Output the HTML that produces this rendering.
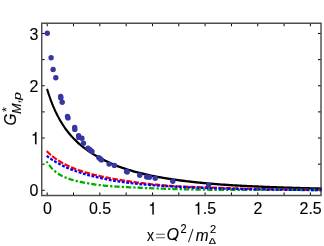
<!DOCTYPE html>
<html><head><meta charset="utf-8"><style>
html,body{margin:0;padding:0;background:#fff;}
svg{display:block;will-change:transform}
text{font-family:"Liberation Sans",sans-serif;fill:#000;stroke:#000;stroke-width:0.12px}
</style></head><body>
<svg width="324" height="246" viewBox="0 0 324 246">
<rect width="324" height="246" fill="#fff"/>
<g stroke="#000" stroke-width="1" fill="none"><path d="M47.20,195.50 v-3 M47.20,23.25 v3"/><path d="M73.52,195.50 v-3 M73.52,23.25 v3"/><path d="M99.84,195.50 v-3 M99.84,23.25 v3"/><path d="M126.16,195.50 v-3 M126.16,23.25 v3"/><path d="M152.48,195.50 v-3 M152.48,23.25 v3"/><path d="M178.80,195.50 v-3 M178.80,23.25 v3"/><path d="M205.12,195.50 v-3 M205.12,23.25 v3"/><path d="M231.44,195.50 v-3 M231.44,23.25 v3"/><path d="M257.76,195.50 v-3 M257.76,23.25 v3"/><path d="M284.08,195.50 v-3 M284.08,23.25 v3"/><path d="M310.40,195.50 v-3 M310.40,23.25 v3"/><path d="M41.70,190.30 h3 M321.00,190.30 h-3"/><path d="M41.70,164.17 h3 M321.00,164.17 h-3"/><path d="M41.70,138.03 h3 M321.00,138.03 h-3"/><path d="M41.70,111.90 h3 M321.00,111.90 h-3"/><path d="M41.70,85.76 h3 M321.00,85.76 h-3"/><path d="M41.70,59.62 h3 M321.00,59.62 h-3"/><path d="M41.70,33.49 h3 M321.00,33.49 h-3"/></g>
<path fill="#4d4d4d" fill-rule="evenodd" d="M41,22.5 H321.75 V196.2 H41 Z M42.45,24 V194.8 H320.3 V24 Z"/>
<g fill="none" stroke-width="2.0" stroke-linejoin="round" transform="scale(1,1.15)">
<path d="M47.05,77.27 C47.08,77.34 47.00,77.14 47.20,77.70 C47.40,78.26 47.90,79.69 48.25,80.64 C48.60,81.59 48.95,82.51 49.31,83.41 C49.66,84.31 50.01,85.18 50.36,86.03 C50.71,86.88 51.06,87.70 51.41,88.50 C51.76,89.31 52.11,90.08 52.46,90.84 C52.81,91.61 53.17,92.34 53.52,93.06 C53.87,93.78 54.22,94.49 54.57,95.17 C54.92,95.85 55.27,96.52 55.62,97.17 C55.97,97.82 56.32,98.45 56.68,99.07 C57.03,99.69 57.38,100.29 57.73,100.88 C58.08,101.47 58.43,102.04 58.78,102.60 C59.13,103.16 59.48,103.71 59.83,104.25 C60.18,104.78 60.54,105.30 60.89,105.82 C61.24,106.33 61.59,106.83 61.94,107.32 C62.29,107.81 62.64,108.28 62.99,108.75 C63.34,109.22 63.69,109.68 64.04,110.13 C64.40,110.58 64.75,111.02 65.10,111.45 C65.45,111.88 65.80,112.30 66.15,112.71 C66.50,113.13 66.85,113.53 67.20,113.93 C67.55,114.32 67.91,114.71 68.26,115.10 C68.61,115.48 68.96,115.85 69.31,116.22 C69.66,116.59 70.01,116.95 70.36,117.31 C70.71,117.66 71.06,118.01 71.41,118.35 C71.77,118.69 72.12,119.03 72.47,119.36 C72.82,119.69 73.17,120.01 73.52,120.33 C73.87,120.65 74.22,120.97 74.57,121.27 C74.92,121.58 75.27,121.89 75.63,122.18 C75.98,122.48 76.33,122.78 76.68,123.06 C77.03,123.35 77.38,123.64 77.73,123.92 C78.08,124.20 78.43,124.47 78.78,124.74 C79.13,125.02 79.49,125.28 79.84,125.55 C80.19,125.81 80.54,126.07 80.89,126.32 C81.24,126.58 81.59,126.83 81.94,127.08 C82.29,127.33 82.64,127.57 83.00,127.81 C83.35,128.05 83.70,128.29 84.05,128.52 C84.40,128.76 84.75,128.99 85.10,129.22 C85.45,129.45 85.80,129.67 86.15,129.89 C86.50,130.11 86.86,130.33 87.21,130.55 C87.56,130.76 87.91,130.98 88.26,131.19 C88.61,131.40 88.96,131.61 89.31,131.81 C89.66,132.02 90.01,132.22 90.36,132.42 C90.72,132.62 91.07,132.82 91.42,133.01 C91.77,133.21 92.12,133.40 92.47,133.59 C92.82,133.78 93.17,133.97 93.52,134.16 C93.87,134.35 94.23,134.53 94.58,134.71 C94.93,134.90 95.28,135.08 95.63,135.26 C95.98,135.44 96.33,135.61 96.68,135.79 C97.03,135.97 97.38,136.14 97.73,136.31 C98.09,136.48 98.44,136.65 98.79,136.82 C99.14,136.99 99.49,137.16 99.84,137.32 C100.19,137.49 100.54,137.65 100.89,137.81 C101.24,137.97 101.59,138.13 101.95,138.29 C102.30,138.45 102.65,138.61 103.00,138.76 C103.35,138.92 103.70,139.07 104.05,139.22 C104.40,139.38 104.75,139.53 105.10,139.68 C105.45,139.82 105.81,139.97 106.16,140.12 C106.51,140.27 106.86,140.41 107.21,140.55 C107.56,140.70 107.91,140.84 108.26,140.98 C108.61,141.12 108.96,141.26 109.32,141.40 C109.67,141.54 110.02,141.67 110.37,141.81 C110.72,141.94 111.07,142.08 111.42,142.21 C111.77,142.34 112.12,142.47 112.47,142.60 C112.82,142.73 113.18,142.86 113.53,142.99 C113.88,143.11 114.23,143.24 114.58,143.37 C114.93,143.49 115.28,143.61 115.63,143.74 C115.98,143.86 116.33,143.98 116.68,144.10 C117.04,144.22 117.39,144.34 117.74,144.45 C118.09,144.57 118.44,144.69 118.79,144.80 C119.14,144.92 119.49,145.03 119.84,145.14 C120.19,145.26 120.55,145.37 120.90,145.48 C121.25,145.59 121.60,145.70 121.95,145.80 C122.30,145.91 122.65,146.02 123.00,146.12 C123.35,146.23 123.70,146.33 124.05,146.44 C124.41,146.54 124.76,146.64 125.11,146.74 C125.46,146.84 125.81,146.94 126.16,147.04 C126.51,147.14 126.86,147.24 127.21,147.34 C127.56,147.43 127.91,147.53 128.27,147.62 C128.62,147.72 128.97,147.81 129.32,147.90 C129.67,147.99 130.02,148.08 130.37,148.17 C130.72,148.26 131.07,148.35 131.42,148.44 C131.77,148.53 132.13,148.62 132.48,148.70 C132.83,148.79 133.18,148.88 133.53,148.96 C133.88,149.05 134.23,149.13 134.58,149.21 C134.93,149.30 135.28,149.38 135.64,149.46 C135.99,149.54 136.34,149.63 136.69,149.71 C137.04,149.79 137.39,149.87 137.74,149.95 C138.09,150.03 138.44,150.10 138.79,150.18 C139.14,150.26 139.50,150.34 139.85,150.41 C140.20,150.49 140.55,150.57 140.90,150.64 C141.25,150.72 141.60,150.79 141.95,150.86 C142.30,150.94 142.65,151.01 143.00,151.08 C143.36,151.16 143.71,151.23 144.06,151.30 C144.41,151.37 144.76,151.44 145.11,151.51 C145.46,151.58 145.81,151.65 146.16,151.72 C146.51,151.79 146.87,151.86 147.22,151.92 C147.57,151.99 147.92,152.06 148.27,152.12 C148.62,152.19 148.97,152.26 149.32,152.32 C149.67,152.39 150.02,152.45 150.37,152.52 C150.73,152.58 151.08,152.64 151.43,152.71 C151.78,152.77 152.13,152.83 152.48,152.90 C152.83,152.96 153.18,153.02 153.53,153.08 C153.88,153.14 154.23,153.20 154.59,153.26 C154.94,153.32 155.29,153.38 155.64,153.44 C155.99,153.50 156.34,153.56 156.69,153.62 C157.04,153.67 157.39,153.73 157.74,153.79 C158.09,153.85 158.45,153.90 158.80,153.96 C159.15,154.01 159.50,154.07 159.85,154.13 C160.20,154.18 160.55,154.24 160.90,154.29 C161.25,154.34 161.60,154.40 161.96,154.45 C162.31,154.51 162.66,154.56 163.01,154.61 C163.36,154.66 163.71,154.72 164.06,154.77 C164.41,154.82 164.76,154.87 165.11,154.92 C165.46,154.97 165.82,155.02 166.17,155.07 C166.52,155.12 166.87,155.17 167.22,155.22 C167.57,155.27 167.92,155.32 168.27,155.37 C168.62,155.42 168.97,155.46 169.32,155.51 C169.68,155.56 170.03,155.61 170.38,155.65 C170.73,155.70 171.08,155.75 171.43,155.79 C171.78,155.84 172.13,155.89 172.48,155.93 C172.83,155.98 173.19,156.02 173.54,156.07 C173.89,156.11 174.24,156.16 174.59,156.20 C174.94,156.24 175.29,156.29 175.64,156.33 C175.99,156.37 176.34,156.42 176.69,156.46 C177.05,156.50 177.40,156.55 177.75,156.59 C178.10,156.63 178.45,156.67 178.80,156.71 C179.15,156.75 179.50,156.79 179.85,156.84 C180.20,156.88 180.55,156.92 180.91,156.96 C181.26,157.00 181.61,157.04 181.96,157.08 C182.31,157.12 182.66,157.15 183.01,157.19 C183.36,157.23 183.71,157.27 184.06,157.31 C184.41,157.35 184.77,157.39 185.12,157.42 C185.47,157.46 185.82,157.50 186.17,157.54 C186.52,157.57 186.87,157.61 187.22,157.65 C187.57,157.68 187.92,157.72 188.28,157.75 C188.63,157.79 188.98,157.83 189.33,157.86 C189.68,157.90 190.03,157.93 190.38,157.97 C190.73,158.00 191.08,158.04 191.43,158.07 C191.78,158.11 192.14,158.14 192.49,158.17 C192.84,158.21 193.19,158.24 193.54,158.28 C193.89,158.31 194.24,158.34 194.59,158.37 C194.94,158.41 195.29,158.44 195.64,158.47 C196.00,158.50 196.35,158.54 196.70,158.57 C197.05,158.60 197.40,158.63 197.75,158.66 C198.10,158.70 198.45,158.73 198.80,158.76 C199.15,158.79 199.51,158.82 199.86,158.85 C200.21,158.88 200.56,158.91 200.91,158.94 C201.26,158.97 201.61,159.00 201.96,159.03 C202.31,159.06 202.66,159.09 203.01,159.12 C203.37,159.15 203.72,159.18 204.07,159.21 C204.42,159.23 204.77,159.26 205.12,159.29 C205.47,159.32 205.82,159.35 206.17,159.38 C206.52,159.40 206.87,159.43 207.23,159.46 C207.58,159.49 207.93,159.51 208.28,159.54 C208.63,159.57 208.98,159.60 209.33,159.62 C209.68,159.65 210.03,159.68 210.38,159.70 C210.73,159.73 211.09,159.75 211.44,159.78 C211.79,159.81 212.14,159.83 212.49,159.86 C212.84,159.88 213.19,159.91 213.54,159.93 C213.89,159.96 214.24,159.99 214.60,160.01 C214.95,160.04 215.30,160.06 215.65,160.08 C216.00,160.11 216.35,160.13 216.70,160.16 C217.05,160.18 217.40,160.21 217.75,160.23 C218.10,160.25 218.46,160.28 218.81,160.30 C219.16,160.32 219.51,160.35 219.86,160.37 C220.21,160.39 220.56,160.41 220.91,160.44 C221.26,160.46 221.61,160.48 221.96,160.50 C222.32,160.52 222.67,160.55 223.02,160.57 C223.37,160.59 223.72,160.61 224.07,160.63 C224.42,160.65 224.77,160.67 225.12,160.69 C225.47,160.72 225.83,160.74 226.18,160.76 C226.53,160.78 226.88,160.80 227.23,160.82 C227.58,160.84 227.93,160.86 228.28,160.88 C228.63,160.90 228.98,160.92 229.33,160.94 C229.69,160.96 230.04,160.97 230.39,160.99 C230.74,161.01 231.09,161.03 231.44,161.05 C231.79,161.07 232.14,161.09 232.49,161.11 C232.84,161.12 233.19,161.14 233.55,161.16 C233.90,161.18 234.25,161.20 234.60,161.21 C234.95,161.23 235.30,161.25 235.65,161.27 C236.00,161.28 236.35,161.30 236.70,161.32 C237.05,161.34 237.41,161.35 237.76,161.37 C238.11,161.39 238.46,161.40 238.81,161.42 C239.16,161.44 239.51,161.45 239.86,161.47 C240.21,161.49 240.56,161.50 240.92,161.52 C241.27,161.54 241.62,161.55 241.97,161.57 C242.32,161.58 242.67,161.60 243.02,161.61 C243.37,161.63 243.72,161.65 244.07,161.66 C244.42,161.68 244.78,161.69 245.13,161.71 C245.48,161.72 245.83,161.74 246.18,161.75 C246.53,161.77 246.88,161.78 247.23,161.80 C247.58,161.81 247.93,161.83 248.28,161.84 C248.64,161.86 248.99,161.87 249.34,161.88 C249.69,161.90 250.04,161.91 250.39,161.93 C250.74,161.94 251.09,161.96 251.44,161.97 C251.79,161.98 252.15,162.00 252.50,162.01 C252.85,162.03 253.20,162.04 253.55,162.05 C253.90,162.07 254.25,162.08 254.60,162.09 C254.95,162.11 255.30,162.12 255.65,162.13 C256.01,162.15 256.36,162.16 256.71,162.17 C257.06,162.19 257.41,162.20 257.76,162.21 C258.11,162.23 258.46,162.24 258.81,162.25 C259.16,162.26 259.51,162.28 259.87,162.29 C260.22,162.30 260.57,162.32 260.92,162.33 C261.27,162.34 261.62,162.35 261.97,162.37 C262.32,162.38 262.67,162.39 263.02,162.40 C263.37,162.42 263.73,162.43 264.08,162.44 C264.43,162.45 264.78,162.46 265.13,162.48 C265.48,162.49 265.83,162.50 266.18,162.51 C266.53,162.53 266.88,162.54 267.24,162.55 C267.59,162.56 267.94,162.57 268.29,162.59 C268.64,162.60 268.99,162.61 269.34,162.62 C269.69,162.63 270.04,162.64 270.39,162.66 C270.74,162.67 271.10,162.68 271.45,162.69 C271.80,162.70 272.15,162.72 272.50,162.73 C272.85,162.74 273.20,162.75 273.55,162.76 C273.90,162.77 274.25,162.79 274.60,162.80 C274.96,162.81 275.31,162.82 275.66,162.83 C276.01,162.84 276.36,162.85 276.71,162.87 C277.06,162.88 277.41,162.89 277.76,162.90 C278.11,162.91 278.47,162.92 278.82,162.93 C279.17,162.94 279.52,162.95 279.87,162.97 C280.22,162.98 280.57,162.99 280.92,163.00 C281.27,163.01 281.62,163.02 281.97,163.03 C282.33,163.04 282.68,163.05 283.03,163.06 C283.38,163.07 283.73,163.08 284.08,163.09 C284.43,163.10 284.78,163.11 285.13,163.12 C285.48,163.13 285.83,163.14 286.19,163.15 C286.54,163.16 286.89,163.17 287.24,163.18 C287.59,163.19 287.94,163.20 288.29,163.21 C288.64,163.22 288.99,163.23 289.34,163.24 C289.69,163.25 290.05,163.26 290.40,163.27 C290.75,163.28 291.10,163.29 291.45,163.30 C291.80,163.31 292.15,163.32 292.50,163.33 C292.85,163.34 293.20,163.35 293.56,163.36 C293.91,163.37 294.26,163.38 294.61,163.39 C294.96,163.39 295.31,163.40 295.66,163.41 C296.01,163.42 296.36,163.43 296.71,163.44 C297.06,163.45 297.42,163.46 297.77,163.47 C298.12,163.47 298.47,163.48 298.82,163.49 C299.17,163.50 299.52,163.51 299.87,163.52 C300.22,163.53 300.57,163.54 300.92,163.54 C301.28,163.55 301.63,163.56 301.98,163.57 C302.33,163.58 302.68,163.59 303.03,163.59 C303.38,163.60 303.73,163.61 304.08,163.62 C304.43,163.63 304.79,163.64 305.14,163.64 C305.49,163.65 305.84,163.66 306.19,163.67 C306.54,163.68 306.89,163.68 307.24,163.69 C307.59,163.70 307.94,163.71 308.29,163.71 C308.65,163.72 309.00,163.73 309.35,163.74 C309.70,163.75 310.05,163.75 310.40,163.76 C310.75,163.77 311.10,163.78 311.45,163.78 C311.80,163.79 312.15,163.80 312.51,163.81 C312.86,163.81 313.21,163.82 313.56,163.83 C313.91,163.84 314.26,163.84 314.61,163.85 C314.96,163.86 315.31,163.86 315.66,163.87 C316.01,163.88 316.37,163.89 316.72,163.89 C317.07,163.90 317.42,163.91 317.77,163.91 C318.12,163.92 318.47,163.93 318.82,163.93 C319.17,163.94 319.52,163.95 319.88,163.96 C320.23,163.96 320.64,163.97 320.93,163.98 C321.22,163.98 321.50,163.99 321.61,163.99" stroke="#000" stroke-width="2.05"/>
<path d="M46.60,131.35 C46.70,131.44 46.75,131.49 47.20,131.87 C47.65,132.24 48.60,133.03 49.31,133.58 C50.01,134.13 50.71,134.66 51.41,135.16 C52.11,135.67 52.81,136.15 53.52,136.62 C54.22,137.09 54.92,137.54 55.62,137.97 C56.32,138.41 57.03,138.83 57.73,139.23 C58.43,139.63 59.13,140.02 59.83,140.39 C60.54,140.77 61.24,141.13 61.94,141.48 C62.64,141.83 63.34,142.17 64.04,142.49 C64.75,142.82 65.45,143.13 66.15,143.44 C66.85,143.74 67.55,144.04 68.26,144.32 C68.96,144.61 69.66,144.89 70.36,145.16 C71.06,145.42 71.77,145.68 72.47,145.94 C73.17,146.19 73.87,146.44 74.57,146.67 C75.27,146.91 75.98,147.14 76.68,147.37 C77.38,147.59 78.08,147.81 78.78,148.03 C79.49,148.24 80.19,148.45 80.89,148.65 C81.59,148.85 82.29,149.05 83.00,149.24 C83.70,149.43 84.40,149.61 85.10,149.80 C85.80,149.98 86.50,150.16 87.21,150.33 C87.91,150.50 88.61,150.67 89.31,150.84 C90.01,151.00 90.72,151.16 91.42,151.32 C92.12,151.48 92.82,151.64 93.52,151.79 C94.23,151.94 94.93,152.09 95.63,152.24 C96.33,152.39 97.03,152.53 97.73,152.68 C98.44,152.82 99.14,152.96 99.84,153.10 C100.54,153.24 101.24,153.37 101.95,153.50 C102.65,153.64 103.35,153.77 104.05,153.90 C104.75,154.03 105.45,154.15 106.16,154.28 C106.86,154.40 107.56,154.53 108.26,154.65 C108.96,154.77 109.67,154.89 110.37,155.01 C111.07,155.12 111.77,155.24 112.47,155.35 C113.18,155.47 113.88,155.58 114.58,155.69 C115.28,155.80 115.98,155.90 116.68,156.01 C117.39,156.12 118.09,156.22 118.79,156.33 C119.49,156.43 120.19,156.53 120.90,156.63 C121.60,156.73 122.30,156.83 123.00,156.92 C123.70,157.02 124.41,157.11 125.11,157.21 C125.81,157.30 126.51,157.39 127.21,157.48 C127.91,157.57 128.62,157.66 129.32,157.75 C130.02,157.83 130.72,157.92 131.42,158.00 C132.13,158.09 132.83,158.17 133.53,158.25 C134.23,158.33 134.93,158.42 135.64,158.50 C136.34,158.58 137.04,158.66 137.74,158.73 C138.44,158.81 139.14,158.89 139.85,158.97 C140.55,159.05 141.25,159.12 141.95,159.20 C142.65,159.27 143.36,159.35 144.06,159.42 C144.76,159.50 145.46,159.57 146.16,159.64 C146.87,159.71 147.57,159.78 148.27,159.85 C148.97,159.92 149.67,159.99 150.37,160.06 C151.08,160.13 151.78,160.19 152.48,160.26 C153.18,160.32 153.88,160.39 154.59,160.45 C155.29,160.51 155.99,160.57 156.69,160.63 C157.39,160.69 158.09,160.75 158.80,160.81 C159.50,160.87 160.20,160.93 160.90,160.98 C161.60,161.04 162.31,161.09 163.01,161.14 C163.71,161.19 164.41,161.24 165.11,161.29 C165.82,161.34 166.52,161.39 167.22,161.44 C167.92,161.48 168.62,161.53 169.32,161.57 C170.03,161.62 170.73,161.66 171.43,161.70 C172.13,161.74 172.83,161.78 173.54,161.82 C174.24,161.86 174.94,161.89 175.64,161.93 C176.34,161.97 177.05,162.00 177.75,162.03 C178.45,162.07 179.15,162.10 179.85,162.13 C180.55,162.16 181.26,162.19 181.96,162.22 C182.66,162.25 183.36,162.28 184.06,162.31 C184.77,162.33 185.47,162.36 186.17,162.39 C186.87,162.41 187.57,162.44 188.28,162.46 C188.98,162.49 189.68,162.51 190.38,162.53 C191.08,162.56 191.78,162.58 192.49,162.60 C193.19,162.63 193.89,162.65 194.59,162.67 C195.29,162.69 196.00,162.71 196.70,162.74 C197.40,162.76 198.10,162.78 198.80,162.80 C199.51,162.82 200.21,162.84 200.91,162.86 C201.61,162.88 202.31,162.90 203.01,162.92 C203.72,162.95 204.42,162.97 205.12,162.99 C205.82,163.01 206.52,163.03 207.23,163.05 C207.93,163.07 208.63,163.09 209.33,163.11 C210.03,163.13 210.73,163.15 211.44,163.17 C212.14,163.19 212.84,163.21 213.54,163.23 C214.24,163.25 214.95,163.27 215.65,163.29 C216.35,163.31 217.05,163.33 217.75,163.35 C218.46,163.37 219.16,163.39 219.86,163.41 C220.56,163.43 221.26,163.45 221.96,163.47 C222.67,163.49 223.37,163.51 224.07,163.53 C224.77,163.55 225.47,163.56 226.18,163.58 C226.88,163.60 227.58,163.62 228.28,163.64 C228.98,163.66 229.69,163.68 230.39,163.70 C231.09,163.71 231.79,163.73 232.49,163.75 C233.19,163.77 233.90,163.79 234.60,163.80 C235.30,163.82 236.00,163.84 236.70,163.86 C237.41,163.87 238.11,163.89 238.81,163.91 C239.51,163.93 240.21,163.94 240.92,163.96 C241.62,163.98 242.32,163.99 243.02,164.01 C243.72,164.02 244.42,164.04 245.13,164.06 C245.83,164.07 246.53,164.09 247.23,164.10 C247.93,164.12 248.64,164.13 249.34,164.15 C250.04,164.16 250.74,164.18 251.44,164.19 C252.15,164.21 252.85,164.22 253.55,164.24 C254.25,164.25 254.95,164.26 255.65,164.28 C256.36,164.29 257.06,164.31 257.76,164.32 C258.46,164.33 259.16,164.35 259.87,164.36 C260.57,164.37 261.27,164.38 261.97,164.40 C262.67,164.41 263.37,164.42 264.08,164.43 C264.78,164.45 265.48,164.46 266.18,164.47 C266.88,164.48 267.59,164.49 268.29,164.51 C268.99,164.52 269.69,164.53 270.39,164.54 C271.10,164.55 271.80,164.56 272.50,164.57 C273.20,164.59 273.90,164.60 274.60,164.61 C275.31,164.62 276.01,164.63 276.71,164.64 C277.41,164.65 278.11,164.66 278.82,164.67 C279.52,164.68 280.22,164.69 280.92,164.70 C281.62,164.71 282.33,164.72 283.03,164.73 C283.73,164.74 284.43,164.75 285.13,164.76 C285.83,164.77 286.54,164.78 287.24,164.78 C287.94,164.79 288.64,164.80 289.34,164.81 C290.05,164.82 290.75,164.83 291.45,164.84 C292.15,164.85 292.85,164.85 293.56,164.86 C294.26,164.87 294.96,164.88 295.66,164.89 C296.36,164.89 297.06,164.90 297.77,164.91 C298.47,164.92 299.17,164.93 299.87,164.93 C300.57,164.94 301.28,164.95 301.98,164.96 C302.68,164.96 303.38,164.97 304.08,164.98 C304.79,164.99 305.49,164.99 306.19,165.00 C306.89,165.01 307.59,165.01 308.29,165.02 C309.00,165.03 309.70,165.03 310.40,165.04 C311.10,165.05 311.80,165.05 312.51,165.06 C313.21,165.07 313.91,165.07 314.61,165.08 C315.31,165.08 316.01,165.09 316.72,165.10 C317.42,165.10 318.12,165.11 318.82,165.12 C319.52,165.12 320.46,165.13 320.93,165.13 C321.39,165.14 321.50,165.14 321.61,165.14" stroke="#ff0000" stroke-dasharray="5.5 1.6"/>
<path d="M46.60,140.34 C46.70,140.48 46.75,140.60 47.20,141.17 C47.65,141.74 48.60,142.97 49.31,143.77 C50.01,144.56 50.71,145.28 51.41,145.96 C52.11,146.63 52.81,147.24 53.52,147.82 C54.22,148.39 54.92,148.91 55.62,149.40 C56.32,149.89 57.03,150.33 57.73,150.75 C58.43,151.18 59.13,151.56 59.83,151.92 C60.54,152.29 61.24,152.62 61.94,152.93 C62.64,153.25 63.34,153.54 64.04,153.82 C64.75,154.10 65.45,154.35 66.15,154.60 C66.85,154.84 67.55,155.07 68.26,155.29 C68.96,155.50 69.66,155.71 70.36,155.90 C71.06,156.10 71.77,156.28 72.47,156.46 C73.17,156.64 73.87,156.80 74.57,156.97 C75.27,157.13 75.98,157.28 76.68,157.43 C77.38,157.58 78.08,157.72 78.78,157.86 C79.49,158.00 80.19,158.13 80.89,158.26 C81.59,158.39 82.29,158.52 83.00,158.64 C83.70,158.76 84.40,158.88 85.10,158.99 C85.80,159.11 86.50,159.22 87.21,159.33 C87.91,159.43 88.61,159.54 89.31,159.64 C90.01,159.74 90.72,159.84 91.42,159.93 C92.12,160.03 92.82,160.12 93.52,160.21 C94.23,160.30 94.93,160.39 95.63,160.48 C96.33,160.56 97.03,160.65 97.73,160.73 C98.44,160.81 99.14,160.88 99.84,160.96 C100.54,161.03 101.24,161.10 101.95,161.17 C102.65,161.24 103.35,161.31 104.05,161.37 C104.75,161.43 105.45,161.49 106.16,161.55 C106.86,161.61 107.56,161.66 108.26,161.72 C108.96,161.77 109.67,161.82 110.37,161.87 C111.07,161.92 111.77,161.96 112.47,162.01 C113.18,162.05 113.88,162.10 114.58,162.14 C115.28,162.18 115.98,162.22 116.68,162.26 C117.39,162.29 118.09,162.33 118.79,162.37 C119.49,162.40 120.19,162.44 120.90,162.47 C121.60,162.51 122.30,162.54 123.00,162.57 C123.70,162.60 124.41,162.64 125.11,162.67 C125.81,162.70 126.51,162.73 127.21,162.76 C127.91,162.79 128.62,162.82 129.32,162.85 C130.02,162.87 130.72,162.90 131.42,162.93 C132.13,162.96 132.83,162.99 133.53,163.01 C134.23,163.04 134.93,163.07 135.64,163.10 C136.34,163.12 137.04,163.15 137.74,163.18 C138.44,163.21 139.14,163.24 139.85,163.26 C140.55,163.29 141.25,163.32 141.95,163.35 C142.65,163.37 143.36,163.40 144.06,163.43 C144.76,163.45 145.46,163.48 146.16,163.51 C146.87,163.53 147.57,163.56 148.27,163.58 C148.97,163.61 149.67,163.63 150.37,163.66 C151.08,163.68 151.78,163.71 152.48,163.73 C153.18,163.76 153.88,163.78 154.59,163.80 C155.29,163.83 155.99,163.85 156.69,163.87 C157.39,163.89 158.09,163.92 158.80,163.94 C159.50,163.96 160.20,163.98 160.90,164.00 C161.60,164.02 162.31,164.04 163.01,164.06 C163.71,164.08 164.41,164.10 165.11,164.12 C165.82,164.14 166.52,164.16 167.22,164.18 C167.92,164.20 168.62,164.22 169.32,164.24 C170.03,164.26 170.73,164.27 171.43,164.29 C172.13,164.31 172.83,164.33 173.54,164.34 C174.24,164.36 174.94,164.38 175.64,164.39 C176.34,164.41 177.05,164.43 177.75,164.44 C178.45,164.46 179.15,164.47 179.85,164.49 C180.55,164.50 181.26,164.52 181.96,164.53 C182.66,164.55 183.36,164.56 184.06,164.58 C184.77,164.59 185.47,164.60 186.17,164.62 C186.87,164.63 187.57,164.64 188.28,164.66 C188.98,164.67 189.68,164.68 190.38,164.70 C191.08,164.71 191.78,164.72 192.49,164.73 C193.19,164.75 193.89,164.76 194.59,164.77 C195.29,164.78 196.00,164.79 196.70,164.80 C197.40,164.82 198.10,164.83 198.80,164.84 C199.51,164.85 200.21,164.86 200.91,164.87 C201.61,164.88 202.31,164.89 203.01,164.90 C203.72,164.91 204.42,164.92 205.12,164.93 C205.82,164.94 206.52,164.95 207.23,164.96 C207.93,164.97 208.63,164.98 209.33,164.99 C210.03,165.00 210.73,165.01 211.44,165.01 C212.14,165.02 212.84,165.03 213.54,165.04 C214.24,165.05 214.95,165.06 215.65,165.07 C216.35,165.07 217.05,165.08 217.75,165.09 C218.46,165.09 219.16,165.10 219.86,165.11 C220.56,165.11 221.26,165.12 221.96,165.12 C222.67,165.12 223.37,165.13 224.07,165.13 C224.77,165.14 225.47,165.14 226.18,165.14 C226.88,165.14 227.58,165.15 228.28,165.15 C228.98,165.15 229.69,165.15 230.39,165.15 C231.09,165.15 231.79,165.15 232.49,165.16 C233.19,165.16 233.90,165.16 234.60,165.16 C235.30,165.16 236.00,165.16 236.70,165.15 C237.41,165.15 238.11,165.15 238.81,165.15 C239.51,165.15 240.21,165.15 240.92,165.15 C241.62,165.15 242.32,165.14 243.02,165.14 C243.72,165.14 244.42,165.14 245.13,165.14 C245.83,165.14 246.53,165.13 247.23,165.13 C247.93,165.13 248.64,165.13 249.34,165.13 C250.04,165.12 250.74,165.12 251.44,165.12 C252.15,165.12 252.85,165.11 253.55,165.11 C254.25,165.11 254.95,165.11 255.65,165.11 C256.36,165.10 257.06,165.10 257.76,165.10 C258.46,165.10 259.16,165.10 259.87,165.10 C260.57,165.10 261.27,165.09 261.97,165.09 C262.67,165.09 263.37,165.09 264.08,165.09 C264.78,165.09 265.48,165.09 266.18,165.09 C266.88,165.09 267.59,165.09 268.29,165.09 C268.99,165.09 269.69,165.09 270.39,165.09 C271.10,165.09 271.80,165.10 272.50,165.10 C273.20,165.10 273.90,165.10 274.60,165.10 C275.31,165.11 276.01,165.11 276.71,165.11 C277.41,165.12 278.11,165.12 278.82,165.12 C279.52,165.12 280.22,165.13 280.92,165.13 C281.62,165.13 282.33,165.14 283.03,165.14 C283.73,165.14 284.43,165.14 285.13,165.15 C285.83,165.15 286.54,165.15 287.24,165.15 C287.94,165.15 288.64,165.16 289.34,165.16 C290.05,165.16 290.75,165.16 291.45,165.17 C292.15,165.17 292.85,165.17 293.56,165.17 C294.26,165.17 294.96,165.18 295.66,165.18 C296.36,165.18 297.06,165.18 297.77,165.19 C298.47,165.19 299.17,165.19 299.87,165.19 C300.57,165.19 301.28,165.19 301.98,165.20 C302.68,165.20 303.38,165.20 304.08,165.20 C304.79,165.20 305.49,165.21 306.19,165.21 C306.89,165.21 307.59,165.21 308.29,165.21 C309.00,165.21 309.70,165.22 310.40,165.22 C311.10,165.22 311.80,165.22 312.51,165.22 C313.21,165.22 313.91,165.22 314.61,165.23 C315.31,165.23 316.01,165.23 316.72,165.23 C317.42,165.23 318.12,165.23 318.82,165.23 C319.52,165.24 320.46,165.24 320.93,165.24 C321.39,165.24 321.50,165.24 321.61,165.24" stroke="#00aa00" stroke-dasharray="5.3 2.1 2.3 1.9" stroke-dashoffset="-3.9"/>
<path d="M46.60,135.56 C46.70,135.62 46.75,135.66 47.20,135.94 C47.65,136.22 48.60,136.82 49.31,137.25 C50.01,137.67 50.71,138.08 51.41,138.48 C52.11,138.88 52.81,139.27 53.52,139.65 C54.22,140.03 54.92,140.39 55.62,140.75 C56.32,141.11 57.03,141.46 57.73,141.80 C58.43,142.14 59.13,142.47 59.83,142.80 C60.54,143.12 61.24,143.43 61.94,143.74 C62.64,144.04 63.34,144.34 64.04,144.63 C64.75,144.92 65.45,145.21 66.15,145.48 C66.85,145.76 67.55,146.03 68.26,146.29 C68.96,146.55 69.66,146.81 70.36,147.06 C71.06,147.31 71.77,147.55 72.47,147.79 C73.17,148.02 73.87,148.26 74.57,148.48 C75.27,148.71 75.98,148.93 76.68,149.14 C77.38,149.36 78.08,149.57 78.78,149.77 C79.49,149.98 80.19,150.18 80.89,150.37 C81.59,150.57 82.29,150.76 83.00,150.94 C83.70,151.13 84.40,151.31 85.10,151.49 C85.80,151.66 86.50,151.84 87.21,152.01 C87.91,152.18 88.61,152.34 89.31,152.50 C90.01,152.67 90.72,152.82 91.42,152.98 C92.12,153.13 92.82,153.29 93.52,153.44 C94.23,153.59 94.93,153.73 95.63,153.88 C96.33,154.02 97.03,154.16 97.73,154.30 C98.44,154.44 99.14,154.58 99.84,154.71 C100.54,154.85 101.24,154.98 101.95,155.11 C102.65,155.24 103.35,155.37 104.05,155.49 C104.75,155.61 105.45,155.74 106.16,155.86 C106.86,155.98 107.56,156.10 108.26,156.21 C108.96,156.33 109.67,156.44 110.37,156.55 C111.07,156.66 111.77,156.77 112.47,156.88 C113.18,156.99 113.88,157.09 114.58,157.19 C115.28,157.30 115.98,157.40 116.68,157.49 C117.39,157.59 118.09,157.69 118.79,157.78 C119.49,157.88 120.19,157.97 120.90,158.06 C121.60,158.15 122.30,158.24 123.00,158.32 C123.70,158.41 124.41,158.49 125.11,158.57 C125.81,158.66 126.51,158.74 127.21,158.81 C127.91,158.89 128.62,158.97 129.32,159.04 C130.02,159.11 130.72,159.18 131.42,159.25 C132.13,159.33 132.83,159.39 133.53,159.46 C134.23,159.53 134.93,159.60 135.64,159.66 C136.34,159.73 137.04,159.79 137.74,159.85 C138.44,159.92 139.14,159.98 139.85,160.04 C140.55,160.10 141.25,160.16 141.95,160.22 C142.65,160.27 143.36,160.33 144.06,160.39 C144.76,160.44 145.46,160.50 146.16,160.55 C146.87,160.61 147.57,160.66 148.27,160.71 C148.97,160.77 149.67,160.82 150.37,160.87 C151.08,160.92 151.78,160.97 152.48,161.02 C153.18,161.07 153.88,161.11 154.59,161.16 C155.29,161.21 155.99,161.25 156.69,161.30 C157.39,161.35 158.09,161.39 158.80,161.43 C159.50,161.48 160.20,161.52 160.90,161.56 C161.60,161.61 162.31,161.65 163.01,161.69 C163.71,161.73 164.41,161.77 165.11,161.81 C165.82,161.85 166.52,161.89 167.22,161.93 C167.92,161.97 168.62,162.00 169.32,162.04 C170.03,162.08 170.73,162.12 171.43,162.15 C172.13,162.19 172.83,162.22 173.54,162.26 C174.24,162.29 174.94,162.33 175.64,162.36 C176.34,162.39 177.05,162.43 177.75,162.46 C178.45,162.49 179.15,162.52 179.85,162.56 C180.55,162.59 181.26,162.62 181.96,162.65 C182.66,162.68 183.36,162.71 184.06,162.74 C184.77,162.77 185.47,162.80 186.17,162.83 C186.87,162.86 187.57,162.88 188.28,162.91 C188.98,162.94 189.68,162.97 190.38,162.99 C191.08,163.02 191.78,163.05 192.49,163.07 C193.19,163.10 193.89,163.13 194.59,163.15 C195.29,163.18 196.00,163.20 196.70,163.23 C197.40,163.25 198.10,163.27 198.80,163.30 C199.51,163.32 200.21,163.35 200.91,163.37 C201.61,163.39 202.31,163.41 203.01,163.44 C203.72,163.46 204.42,163.48 205.12,163.50 C205.82,163.52 206.52,163.55 207.23,163.57 C207.93,163.59 208.63,163.61 209.33,163.63 C210.03,163.65 210.73,163.67 211.44,163.69 C212.14,163.71 212.84,163.73 213.54,163.75 C214.24,163.77 214.95,163.79 215.65,163.80 C216.35,163.82 217.05,163.84 217.75,163.86 C218.46,163.88 219.16,163.90 219.86,163.91 C220.56,163.93 221.26,163.95 221.96,163.97 C222.67,163.98 223.37,164.00 224.07,164.02 C224.77,164.03 225.47,164.05 226.18,164.06 C226.88,164.08 227.58,164.10 228.28,164.11 C228.98,164.13 229.69,164.14 230.39,164.16 C231.09,164.17 231.79,164.19 232.49,164.20 C233.19,164.22 233.90,164.23 234.60,164.25 C235.30,164.26 236.00,164.27 236.70,164.29 C237.41,164.30 238.11,164.32 238.81,164.33 C239.51,164.34 240.21,164.36 240.92,164.37 C241.62,164.38 242.32,164.39 243.02,164.41 C243.72,164.42 244.42,164.43 245.13,164.44 C245.83,164.46 246.53,164.47 247.23,164.48 C247.93,164.49 248.64,164.51 249.34,164.52 C250.04,164.53 250.74,164.54 251.44,164.55 C252.15,164.56 252.85,164.57 253.55,164.58 C254.25,164.60 254.95,164.61 255.65,164.62 C256.36,164.63 257.06,164.64 257.76,164.65 C258.46,164.66 259.16,164.67 259.87,164.68 C260.57,164.69 261.27,164.70 261.97,164.71 C262.67,164.72 263.37,164.73 264.08,164.74 C264.78,164.75 265.48,164.76 266.18,164.77 C266.88,164.77 267.59,164.78 268.29,164.79 C268.99,164.80 269.69,164.81 270.39,164.82 C271.10,164.83 271.80,164.84 272.50,164.84 C273.20,164.85 273.90,164.86 274.60,164.87 C275.31,164.88 276.01,164.89 276.71,164.89 C277.41,164.90 278.11,164.91 278.82,164.92 C279.52,164.93 280.22,164.93 280.92,164.94 C281.62,164.95 282.33,164.96 283.03,164.96 C283.73,164.97 284.43,164.98 285.13,164.98 C285.83,164.99 286.54,165.00 287.24,165.01 C287.94,165.01 288.64,165.02 289.34,165.03 C290.05,165.03 290.75,165.04 291.45,165.05 C292.15,165.05 292.85,165.06 293.56,165.07 C294.26,165.07 294.96,165.08 295.66,165.08 C296.36,165.09 297.06,165.10 297.77,165.10 C298.47,165.11 299.17,165.11 299.87,165.12 C300.57,165.13 301.28,165.13 301.98,165.14 C302.68,165.14 303.38,165.15 304.08,165.15 C304.79,165.16 305.49,165.16 306.19,165.17 C306.89,165.18 307.59,165.18 308.29,165.19 C309.00,165.19 309.70,165.20 310.40,165.20 C311.10,165.21 311.80,165.21 312.51,165.22 C313.21,165.22 313.91,165.23 314.61,165.23 C315.31,165.24 316.01,165.24 316.72,165.25 C317.42,165.25 318.12,165.25 318.82,165.26 C319.52,165.26 320.46,165.27 320.93,165.27 C321.39,165.28 321.50,165.28 321.61,165.28" stroke="#0000ff" stroke-dasharray="2.8 1.6"/>
</g>
<g fill="#3636a0"><circle cx="47.3" cy="33.3" r="2.7"/><circle cx="51.1" cy="57.7" r="2.7"/><circle cx="53.1" cy="69.5" r="2.7"/><circle cx="55.8" cy="77.8" r="2.7"/><circle cx="60.7" cy="96.4" r="2.7"/><circle cx="60.8" cy="97.9" r="2.7"/><circle cx="62.2" cy="102.2" r="2.7"/><circle cx="67.5" cy="116.4" r="2.7"/><circle cx="68.0" cy="117.9" r="2.7"/><circle cx="74.7" cy="127.4" r="2.7"/><circle cx="74.8" cy="129.4" r="2.7"/><circle cx="78.6" cy="135.7" r="2.7"/><circle cx="78.8" cy="137.4" r="2.7"/><circle cx="81.9" cy="138.2" r="2.7"/><circle cx="83.5" cy="143.2" r="2.7"/><circle cx="88.0" cy="148.1" r="2.7"/><circle cx="90.0" cy="149.8" r="2.7"/><circle cx="92.0" cy="151.4" r="2.7"/><circle cx="98.8" cy="157.6" r="2.7"/><circle cx="100.1" cy="158.8" r="2.7"/><circle cx="101.4" cy="159.9" r="2.7"/><circle cx="109.1" cy="164.1" r="2.7"/><circle cx="114.4" cy="165.4" r="2.7"/><circle cx="126.6" cy="171.4" r="2.7"/><circle cx="127.2" cy="172.0" r="2.7"/><circle cx="139.7" cy="175.2" r="2.7"/><circle cx="146.7" cy="177.0" r="2.7"/><circle cx="149.4" cy="177.2" r="2.7"/><circle cx="155.2" cy="178.2" r="2.7"/><circle cx="172.8" cy="181.2" r="2.7"/><circle cx="208.6" cy="184.9" r="2.7"/></g>
<g><text transform="translate(43.00,214.45) scale(1.000,1.070)" font-size="16">0</text><text transform="translate(88.97,214.45) scale(1.000,1.070)" font-size="16">0</text><text transform="translate(97.87,214.45) scale(1.000,1.070)" font-size="16">.</text><text transform="translate(102.31,214.45) scale(1.000,1.070)" font-size="16">5</text><path transform="translate(148.28,214.45) scale(0.01600,-0.01712)" d="M342,0 H254 V505 H102 V568 C181,568 254,600 271,709 H342 Z" fill="#000" stroke="#000" stroke-width="8"/><path transform="translate(193.80,214.45) scale(0.01600,-0.01712)" d="M342,0 H254 V505 H102 V568 C181,568 254,600 271,709 H342 Z" fill="#000" stroke="#000" stroke-width="8"/><text transform="translate(202.70,214.45) scale(1.000,1.070)" font-size="16">.</text><text transform="translate(207.14,214.45) scale(1.000,1.070)" font-size="16">5</text><text transform="translate(253.56,214.45) scale(1.000,1.070)" font-size="16">2</text><text transform="translate(299.53,214.45) scale(1.000,1.070)" font-size="16">2</text><text transform="translate(308.43,214.45) scale(1.000,1.070)" font-size="16">.</text><text transform="translate(312.87,214.45) scale(1.000,1.070)" font-size="16">5</text><text transform="translate(29.60,196.40) scale(1.000,1.070)" font-size="16">0</text><path transform="translate(31.00,144.13) scale(0.01600,-0.01712)" d="M342,0 H254 V505 H102 V568 C181,568 254,600 271,709 H342 Z" fill="#000" stroke="#000" stroke-width="8"/><text transform="translate(29.60,91.86) scale(1.000,1.070)" font-size="16">2</text><text transform="translate(29.60,39.59) scale(1.000,1.070)" font-size="16">3</text><text transform="translate(147.00,240.85) scale(0.880,1.070)" font-size="16">x</text><path d="M156.1,233.75 h8.8 v1.1 h-8.8 Z M156.1,237.15 h8.8 v1.1 h-8.8 Z" fill="#5a5a5a"/><text transform="translate(166.50,240.30) scale(1.000,1.000)" font-size="16" font-style="italic">O</text><path d="M173.6,237.6 L176.6,240.9" stroke="#000" stroke-width="1.4" fill="none"/><text transform="translate(180.40,232.60) scale(1.000,1.080)" font-size="11">2</text><path d="M188.5,242.1 L193.0,228.8" stroke="#222" stroke-width="1.05" fill="none"/><text transform="translate(195.80,240.60) scale(0.960,1.020)" font-size="16" font-style="italic">m</text><text transform="translate(210.10,233.00) scale(1.000,1.000)" font-size="11">2</text><text transform="translate(208.70,244.30) scale(1.080,0.900)" font-size="10">&#916;</text></g>
<g transform="translate(14.9,125.6) rotate(-90)"><text transform="translate(0.00,0.80) scale(1.000,1.090)" font-size="15.3" font-style="italic">G</text><text style="stroke:none" transform="translate(13.50,-3.60) scale(1.000,1.000)" font-size="12.5" fill="#666">*</text><text transform="translate(11.90,5.95) scale(1.000,1.000)" font-size="12.3" font-style="italic">M</text><text transform="translate(22.90,4.90) scale(1.000,1.000)" font-size="12" font-style="italic">,</text><text transform="translate(25.50,5.60) scale(1.200,1.000)" font-size="11.8" font-style="italic">p</text></g>
</svg>
</body></html>
